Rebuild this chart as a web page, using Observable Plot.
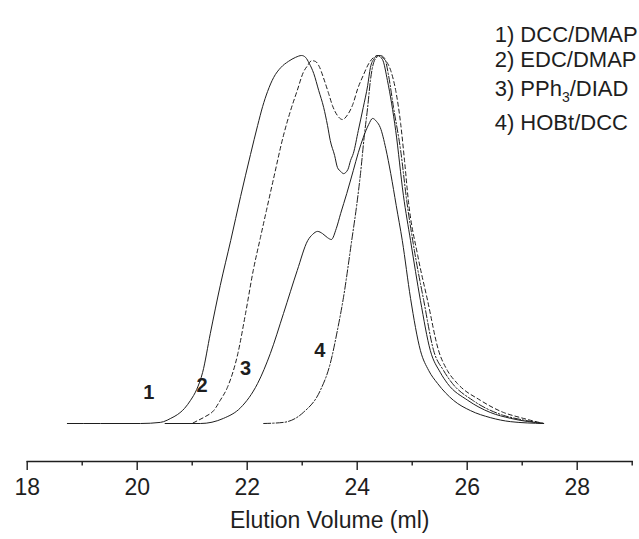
<!DOCTYPE html>
<html>
<head>
<meta charset="utf-8">
<script src="https://cdn.jsdelivr.net/npm/d3@7"></script>
<script src="https://cdn.jsdelivr.net/npm/@observablehq/plot@0.6"></script>
<style>
  html, body { margin: 0; padding: 0; background: #fff; }
  #chart { width: 639px; height: 539px; }
</style>
</head>
<body>
<div id="chart"></div>
<script>
// Elution volume (ml) and normalized detector response for each run
const ml1 = [18.73,19.33,20.06,20.42,20.48,20.61,20.73,20.86,20.97,21.08,21.19,21.33,21.51,21.70,21.88,22.06,22.19,22.28,22.37,22.48,22.61,22.75,22.88,22.99,23.06,23.13,23.21,23.30,23.39,23.46,23.51,23.59,23.64,23.70,23.75,23.83,23.88,23.93,24.02,24.11,24.19,24.24,24.31,24.37,24.46,24.55,24.70,24.84,24.97,25.15,25.33,25.51,25.64,26.01,26.42,26.79,27.39];
const int1 = [0,0,0,0.3,0.5,1.4,2.4,4.1,6.3,9.2,13.9,24.5,37.5,49.7,61.7,73.1,81.0,86.1,90.2,94.0,96.7,98.4,99.5,100,99.5,97.8,95.1,90.5,85.9,81.0,76.9,72.8,69.6,68.5,67.9,69.0,71.5,73.4,79.6,85.9,91.8,96.7,99.2,100,98.9,93.2,79.6,62.0,49.7,33.4,19.8,13.9,10.9,6.3,3.0,1.4,0];

const ml2 = [20.51,20.97,21.10,21.24,21.39,21.51,21.64,21.83,21.97,22.11,22.24,22.35,22.48,22.66,22.79,22.91,23.02,23.10,23.17,23.24,23.31,23.39,23.48,23.55,23.64,23.73,23.83,23.92,24.01,24.11,24.21,24.30,24.39,24.48,24.61,24.70,24.79,24.86,24.93,25.10,25.28,25.48,25.64,25.82,26.24,26.66,26.97,27.39];
const int2 = [0,0,0.8,1.9,3.5,6.3,9.8,19.0,29.9,41.6,50.5,57.9,66.6,78.3,85.1,90.5,95.4,97.3,98.6,98.4,97.0,93.8,89.7,86.4,83.7,82.6,84.0,86.7,91.0,94.6,97.8,99.5,100,99.2,95.9,90.5,81.5,71.5,60.6,45.7,33.4,19.8,14.4,10.9,6.3,3.0,1.6,0];

const ml3 = [20.51,21.15,21.57,21.88,22.19,22.42,22.66,22.91,23.10,23.19,23.28,23.37,23.46,23.53,23.62,23.70,23.81,23.93,24.02,24.11,24.21,24.28,24.35,24.42,24.52,24.61,24.71,24.82,24.97,25.15,25.30,25.46,25.75,26.06,26.42,26.79,27.39];
const int3 = [0,0,1.4,4.3,10.9,19.0,29.9,41.6,49.7,51.4,52.2,51.6,50.5,50.0,53.0,57.1,62.5,68.8,73.6,77.7,81.3,82.9,82.1,80.4,74.7,67.9,59.2,49.7,34.0,19.8,14.4,10.9,6.3,3.5,1.6,0.5,0];

const ml4 = [22.30,22.66,23.02,23.33,23.51,23.64,23.75,23.90,23.99,24.06,24.13,24.19,24.24,24.30,24.37,24.42,24.50,24.57,24.66,24.79,24.90,25.04,25.21,25.39,25.57,25.73,26.10,26.66,26.97,27.39];
const int4 = [0,0.3,3.0,9.0,16.3,25.3,34.2,49.7,59.2,67.9,78.3,85.9,93.2,98.1,99.7,100,99.2,94.6,85.9,74.2,60.6,47.0,33.4,19.8,14.4,10.9,6.3,2.2,1.1,0];

// Curve number labels (position in ml / response units)
const curveNames = ["1", "2", "3", "4"];
const curveLabelMl = [20.21, 21.18, 21.97, 23.32];
const curveLabelInt = [8.4, 10.3, 14.9, 19.8];

// Legend entries
const legendLines = ["1) DCC/DMAP", "2) EDC/DMAP", "3) PPh3/DIAD", "4) HOBt/DCC"];

// Axis
const majorTicks = [18, 20, 22, 24, 26, 28];
const minorTicks = [19, 21, 23, 25, 27, 29];
const xTitle = "Elution Volume (ml)";

const toRows = (xs, ys) => xs.map((x, i) => ({x, y: ys[i]}));
const s1 = toRows(ml1, int1), s2 = toRows(ml2, int2), s3 = toRows(ml3, int3), s4 = toRows(ml4, int4);
const labels = curveNames.map((t, i) => ({t, x: curveLabelMl[i], y: curveLabelInt[i]}));

const ink = "#1e1e1e";
const font = "'Liberation Sans', Arial, Helvetica, sans-serif";
const lineOpts = {x: "x", y: "y", stroke: ink, strokeWidth: 1, curve: "monotone-x"};

const legendDy = [26, 51, 80, 114];

const plot = Plot.plot({
  width: 639,
  height: 539,
  marginLeft: 26.7,
  marginRight: 7.3,
  marginTop: 0,
  marginBottom: 78,
  style: {fontFamily: font, color: ink, background: "#fff", overflow: "visible"},
  x: {domain: [18, 29]},
  y: {domain: [0, 100], range: [423, 55], axis: null},
  marks: [
    Plot.frame({anchor: "bottom", stroke: ink, strokeWidth: 1.4}),
    Plot.axisX({ticks: minorTicks, tickSize: 4.5, text: null, stroke: ink, strokeWidth: 1.4, label: null}),
    Plot.axisX({ticks: majorTicks, tickSize: 9, tickPadding: 8, tickFormat: d => String(d), fontSize: 23, stroke: ink, strokeWidth: 1.4, label: null, fill: ink}),
    Plot.text([xTitle], {text: d => d, frameAnchor: "bottom", dy: 66, fontSize: 23, fill: ink}),
    Plot.line(s1, lineOpts),
    Plot.line(s2, {...lineOpts, strokeDasharray: "4,3"}),
    Plot.line(s3, lineOpts),
    Plot.line(s4, {...lineOpts, strokeDasharray: "7,2,1.5,2"}),
    Plot.text(labels, {x: "x", y: "y", text: "t", fontSize: 20, fontWeight: "bold", fill: ink}),
    ...legendLines.map((t, i) => Plot.text([t], {text: d => d, frameAnchor: "top-right", textAnchor: "start", dx: -137.5, dy: legendDy[i], fontSize: 22, fill: ink}))
  ]
});

// subscript in PPh3
d3.select(plot).selectAll("text").each(function() {
  if (this.textContent === "3) PPh3/DIAD") {
    const el = d3.select(this);
    el.text(null);
    el.append("tspan").text("3) PPh");
    el.append("tspan").attr("dy", 6).attr("font-size", 14).text("3");
    el.append("tspan").attr("dy", -6).text("/DIAD");
  }
});

document.getElementById("chart").appendChild(plot);
</script>
</body>
</html>
